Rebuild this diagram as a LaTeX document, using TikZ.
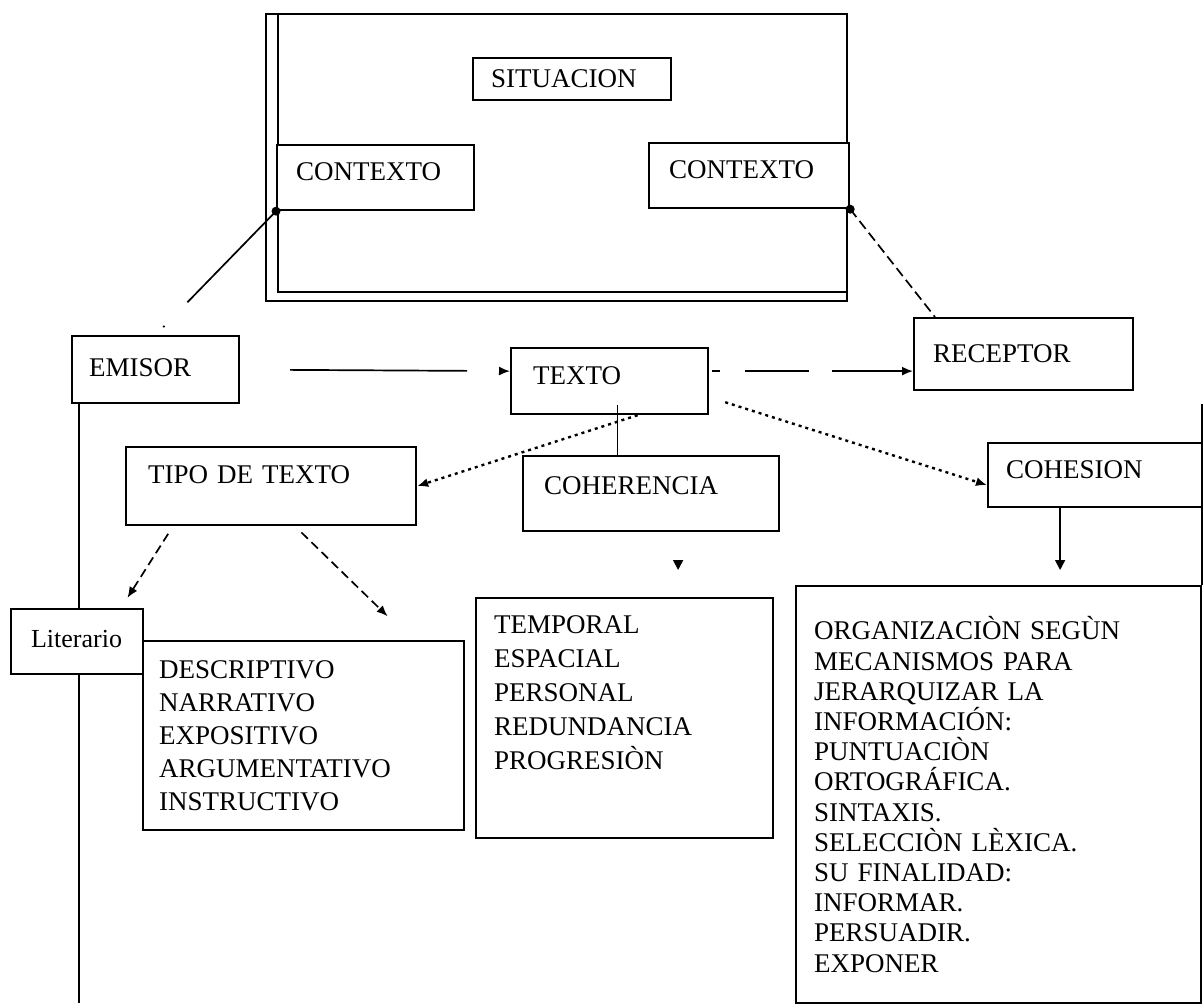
\documentclass[tikz,border=0pt]{standalone}
\usepackage{fontspec}
\setmainfont{Liberation Serif}
\usetikzlibrary{arrows.meta}
\usetikzlibrary{calc}

\tikzset{
  caja/.style={draw, line width=2.2pt, fill=white, rectangle, anchor=north west,
    align=left, inner ysep=0pt, font=\fontsize{27}{34}\selectfont},
  linea/.style={line width=1.7pt},
  flecha/.style={linea, -{Latex[length=11pt,width=9pt]}},
  flechab/.style={linea, -{Triangle[length=10pt,width=10pt]}},
  punteado/.style={flecha, line width=2.4pt, dash pattern=on 3pt off 4pt},
  rayado/.style={flecha, dash pattern=on 9pt off 5pt},
}

\begin{document}
\begin{tikzpicture}[x=1pt, y=-1pt]
        \useasboundingbox (0,0) rectangle (1204,1007);

        % Marco de la situacion
        \node[draw, line width=2.2pt, minimum width=581pt, minimum height=287pt, anchor=north west, inner sep=0pt] (marco) at (265,13) {};
        \draw[line width=2.2pt] ([xshift=13pt]marco.north west) |- ([yshift=10pt]marco.south east);

        \node[caja, minimum height=42pt, text width=162pt, inner xsep=18pt] (sit) at (472,57) {SITUACION};
        \node[caja, minimum height=65pt, text width=159pt, inner xsep=19pt, text depth=13pt] (ctxL) at (276,144) {CONTEXTO};
        \node[caja, minimum height=65pt, text width=160pt, inner xsep=20pt, text depth=13pt] (ctxR) at (648,142) {CONTEXTO};

        % Emisor, texto, receptor
        \node[caja, minimum height=67pt, text width=133pt, inner xsep=17pt, text depth=5pt] (emisor) at (71,335) {EMISOR};
        \node[caja, minimum height=66pt, text width=153pt, inner xsep=22pt, text depth=12pt] (texto) at (510,347) {TEXTO};
        \node[caja, minimum height=72pt, text width=181pt, inner xsep=19pt] (recep) at (913,317) {RECEPTOR};

        \node[caja, minimum height=78pt, text width=246pt, inner xsep=22pt, text depth=24pt] (tipo) at (125,446) {TIPO DE TEXTO};
        \node[caja, minimum height=75pt, text width=214pt, inner xsep=21pt, text depth=17pt] (coher) at (522,455) {COHERENCIA};
        \node[caja, minimum height=64pt, text width=178pt, inner xsep=18pt, text depth=12pt] (cohes) at (987,442) {COHESION};

        % Listas
        \node[caja, font=\fontsize{26}{30}\selectfont, minimum height=65pt, text width=92pt, inner xsep=20pt, text depth=6pt] (lit) at (10,608) {Literario};
        \node[caja, font=\fontsize{27}{33}\selectfont, minimum height=189pt, text width=289pt, inner xsep=16pt] (desc) at (142,640)
            {DESCRIPTIVO\\NARRATIVO\\EXPOSITIVO\\ARGUMENTATIVO\\INSTRUCTIVO};
        \node[caja, minimum height=240pt, text width=261pt, inner xsep=18pt, text depth=187pt] (temp) at (475,597)
            {TEMPORAL\\ESPACIAL\\PERSONAL\\REDUNDANCIA\\PROGRESIÒN};
        \node[caja, font=\fontsize{27}{30.2}\selectfont, minimum height=417pt, text width=369pt, inner xsep=18pt] (org) at (795,585)
            {ORGANIZACIÒN SEGÙN\\MECANISMOS PARA\\JERARQUIZAR LA\\INFORMACIÓN:\\PUNTUACIÒN\\ORTOGRÁFICA.\\SINTAXIS.\\SELECCIÒN LÈXICA.\\SU FINALIDAD:\\INFORMAR.\\PERSUADIR.\\EXPONER};

        % Puntos de contexto
        \fill (ctxL.south west) circle (4.5pt);
        \fill (ctxR.south east) circle (4.5pt);
        \draw[linea, dash pattern=on 127pt off 33pt on 2pt off 60pt, shorten >=11pt] (ctxL.south west) -- (emisor.north);
        \draw[linea, dash pattern=on 10pt off 5pt] (ctxR.south east) -- ([xshift=22pt]recep.north west);

        % Flechas del texto
        \coordinate (tr) at ([yshift=10pt]texto.east);
        \draw[flecha, shorten <=50pt, dash pattern=on 177pt off 40pt] (emisor.east) -- ([yshift=10pt]texto.west);
        \draw[flecha, dash pattern=on 0pt off 3pt on 8pt off 25pt on 64pt off 23pt on 80pt] (tr) -- (tr -| recep.west);
        \draw[punteado] ([xshift=16pt,yshift=13pt]texto.south east) -- ([yshift=-10pt]cohes.west);
        \draw[punteado] ([xshift=28pt]texto.south) -- (tipo.east);
        \coordinate (tc) at ([xshift=8pt,yshift=10pt]texto.south);
        \draw[linea] (tc) -- (tc |- coher.north);
        \coordinate (cc) at ([xshift=27pt]coher.south);
        \draw[flechab, shorten <=28pt, shorten >=27pt] (cc) -- (cc |- temp.north);
        \coordinate (cs) at ([xshift=-35pt]cohes.south);
        \draw[flechab, shorten >=15pt] (cs) -- (cs |- org.north);
        \coordinate (marca) at (1201,404);
        \draw[line width=2.2pt] (org.north east) -- (org.north east |- marca);

        % Tipos de texto
        \draw[rayado, shorten <=9pt, shorten >=12pt] ([xshift=48pt]tipo.south west) -- ([xshift=111pt]lit.north west);
        \draw[rayado, shorten <=9pt, shorten >=34pt] ([xshift=170pt]tipo.south west) -- ([xshift=270pt]desc.north west);

        % Linea del emisor
        \coordinate (ev) at ([xshift=8pt]emisor.south west);
        \coordinate (fin) at (79,1003);
        \draw[linea] (ev) -- (ev |- lit.north);
        \draw[linea] (ev |- lit.south) -- (fin);
\end{tikzpicture}
\end{document}
